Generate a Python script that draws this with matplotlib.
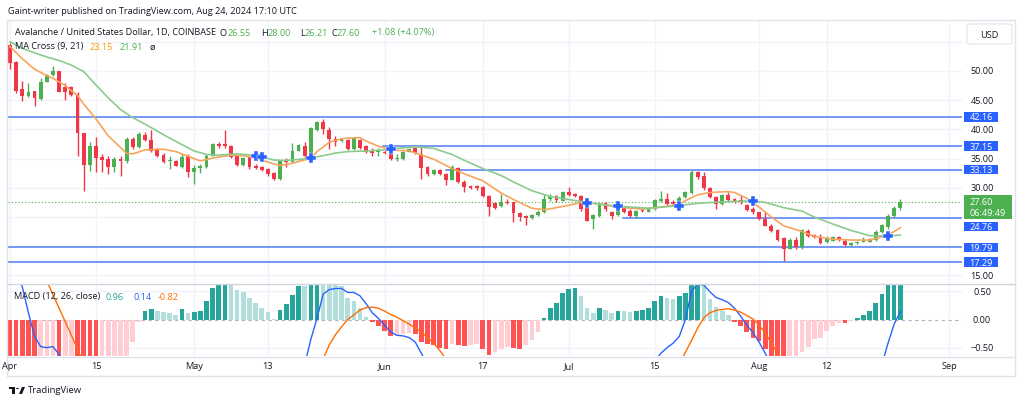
import numpy as np
import matplotlib.pyplot as plt
from matplotlib.patches import Rectangle, Polygon, Circle, FancyBboxPatch

plt.rcParams['font.family'] = ['Open Sans', 'DejaVu Sans']

W, H = 1024, 406

# daily candles, day 0 = Apr 1 2024 ... day 145 = Aug 24 2024
opens = [54.45, 51.5, 46.9, 45.8, 46.5, 45.2, 48.15, 49.3, 49.95, 47.3,
         47.2, 46.05, 39.35, 33.9, 37.2, 35.35, 34.95, 33.5, 34.95, 34.55,
         38.35, 37.05, 39.1, 38.2, 36.45, 35.65, 34.55, 34.6, 33.5, 35.5,
         32.65, 33.35, 33.5, 35.5, 37.45, 37.45, 37.2, 35.4, 33.9, 35.2,
         33.8, 33.5, 33.2, 32.5, 31.5, 34.65, 34.5, 36.35, 37.2, 35.2,
         39.95, 41.2, 39.95, 38.35, 37.95, 38.25, 36.65, 38.25, 37.1, 36.35,
         36.2, 36.2, 35.9, 34.95, 34.95, 36.2, 36.75, 35.8, 33.5, 32.35,
         33.05, 32.35, 31.4, 33.35, 31.05, 30.25, 30.25, 30.1, 28.55, 27.35,
         26.8, 27.6, 27.5, 25.6, 25.1, 24.8, 25.35, 25.8, 28.1, 28.55,
         27.8, 29.35, 28.95, 28.55, 27.2, 24.65, 25.1, 27.35, 25.8, 25.4,
         26.5, 25.95, 25.1, 26.2, 25.9, 26.35, 27.8, 28.1, 27.6, 27.2,
         28.35, 29.1, 32.75, 31.95, 29.9, 28.35, 27.2, 28.75, 28.05, 27.95,
         27.05, 26.35, 25.8, 24.7, 23.5, 22.8, 21.35, 19.6, 21.05, 19.8,
         22.65, 21.9, 21.6, 20.65, 20.95, 21.5, 20.95, 20.2, 20.55, 20.75,
         20.75, 21.05, 22.35, 23.25, 25.1, 26.55]
highs = [54.8, 51.7, 48.35, 48.0, 46.65, 48.75, 49.5, 50.8, 50.05, 47.9,
         47.5, 46.45, 39.4, 37.8, 38.65, 35.8, 35.4, 35.2, 35.4, 38.65,
         38.65, 39.5, 39.6, 39.95, 36.75, 35.9, 35.4, 34.8, 35.8, 35.8,
         33.9, 34.0, 35.8, 37.7, 37.9, 39.95, 37.35, 35.5, 35.25, 35.6,
         34.0, 33.8, 33.35, 32.75, 34.8, 35.05, 37.6, 37.5, 37.8, 40.35,
         41.5, 41.8, 40.35, 38.9, 38.6, 38.35, 38.65, 38.35, 37.35, 36.75,
         36.75, 36.4, 36.2, 35.8, 36.35, 36.75, 37.0, 36.95, 33.65, 33.2,
         33.2, 32.55, 33.9, 33.5, 31.4, 30.5, 30.5, 30.35, 28.75, 27.6,
         28.95, 28.1, 27.6, 25.9, 25.35, 25.55, 26.25, 28.95, 28.95, 28.75,
         29.5, 30.1, 29.1, 28.75, 27.8, 25.5, 27.5, 27.5, 26.1, 26.9,
         26.8, 26.35, 26.25, 26.35, 26.65, 28.1, 29.4, 29.05, 27.95, 28.55,
         29.4, 33.05, 32.95, 32.65, 30.1, 28.55, 28.95, 29.2, 28.2, 28.75,
         27.2, 26.65, 25.9, 25.8, 23.8, 22.95, 21.5, 21.45, 21.5, 22.95,
         22.95, 22.1, 22.1, 21.7, 21.8, 21.8, 21.25, 20.65, 20.9, 21.5,
         21.35, 22.8, 23.8, 25.5, 26.95, 28.0]
lows = [50.3, 46.3, 44.9, 45.5, 44.05, 45.1, 48.05, 49.1, 46.35, 45.1,
        45.75, 35.5, 29.5, 32.9, 32.65, 32.65, 32.35, 32.65, 32.1, 34.25,
        36.65, 36.9, 38.05, 36.05, 35.2, 34.25, 33.2, 33.7, 33.45, 31.9,
        30.65, 32.5, 33.4, 35.4, 36.75, 36.85, 35.1, 33.7, 33.8, 33.2,
        33.2, 32.8, 31.95, 31.4, 31.4, 33.5, 34.35, 36.25, 34.9, 35.1,
        39.7, 39.2, 36.65, 37.2, 37.8, 36.5, 36.5, 36.65, 35.95, 35.5,
        35.4, 35.75, 34.8, 34.6, 34.8, 36.05, 35.8, 31.5, 32.05, 32.25,
        32.2, 30.5, 31.3, 30.8, 29.35, 29.8, 29.7, 28.35, 25.1, 26.35,
        26.65, 27.2, 24.1, 24.35, 23.6, 24.65, 25.1, 25.7, 27.8, 27.6,
        27.7, 28.55, 28.35, 26.1, 24.25, 22.95, 25.0, 26.1, 24.65, 25.1,
        25.7, 24.95, 24.85, 25.8, 25.8, 26.25, 27.5, 27.1, 26.95, 27.1,
        28.25, 29.0, 31.5, 29.7, 28.25, 26.35, 27.1, 27.8, 27.35, 27.2,
        26.1, 25.5, 24.5, 23.4, 22.5, 20.95, 17.4, 19.5, 19.6, 19.6,
        21.5, 21.4, 20.4, 20.55, 20.85, 20.95, 20.0, 20.0, 20.45, 20.65,
        20.65, 20.95, 22.25, 22.95, 25.0, 26.21]
closes = [51.4, 46.6, 45.8, 46.45, 45.3, 48.15, 49.3, 50.0, 46.45, 46.35,
          45.9, 39.35, 33.9, 37.2, 35.05, 34.8, 33.5, 34.95, 34.65, 38.35,
          36.95, 39.2, 38.2, 36.35, 35.5, 34.35, 34.75, 33.8, 35.35, 32.65,
          33.35, 33.8, 35.5, 37.45, 37.1, 37.1, 35.2, 33.9, 35.1, 33.5,
          33.35, 33.1, 32.35, 31.5, 34.65, 34.35, 36.35, 37.35, 35.5, 40.2,
          41.2, 40.05, 38.35, 37.9, 38.35, 36.65, 38.45, 36.75, 36.05, 35.95,
          36.55, 35.9, 34.95, 35.15, 36.2, 36.65, 35.9, 33.35, 32.35, 33.05,
          32.35, 31.4, 33.5, 30.95, 30.1, 30.0, 29.9, 28.55, 26.65, 26.55,
          27.6, 27.4, 25.7, 24.95, 24.8, 25.35, 25.9, 28.1, 28.35, 27.95,
          29.35, 28.75, 28.65, 26.35, 24.35, 25.35, 27.35, 26.35, 25.1, 26.6,
          25.8, 25.25, 26.1, 25.95, 26.5, 27.9, 28.1, 27.2, 27.2, 28.25,
          29.2, 32.65, 31.9, 29.9, 28.35, 27.2, 28.75, 27.95, 27.5, 27.5,
          26.25, 25.8, 24.6, 23.5, 22.65, 21.1, 19.5, 21.05, 19.8, 22.75,
          21.8, 21.6, 20.55, 21.25, 21.5, 21.05, 20.2, 20.5, 20.75, 21.1,
          21.25, 22.5, 23.65, 25.25, 26.52, 27.6]

# MA Cross lines (day, value)
ma9_days = [0, 2, 4, 6, 7, 9, 10, 11, 12, 14, 16, 18, 19, 20, 22, 25, 27, 29, 31, 33,
            36, 38, 40, 42, 44, 46, 47, 49, 50, 52, 54, 55, 57, 58, 60, 62, 63, 65, 67,
            69, 72, 74, 77, 80, 82, 85, 87, 88, 91, 93, 95, 97, 99, 103, 106, 109, 110,
            112, 114, 117, 118, 120, 122, 124, 126, 129, 131, 134, 137, 140, 141, 143, 145]
ma9_vals = [54.2, 52.1, 50.3, 49.2, 48.75, 47.5, 46.6, 45.8, 44.35, 41.8, 38.9, 36.9, 35.9,
            35.8, 36.5, 36.6, 36.2, 35.4, 34.6, 35.1, 35.6, 35.5, 35.1, 34.4, 33.8, 34.2,
            34.5, 35.05, 36.2, 37.8, 38.4, 38.5, 38.6, 38.0, 37.1, 36.6, 36.4, 36.35, 35.6,
            34.9, 33.3, 32.4, 31.2, 29.1, 28.0, 26.5, 26.25, 26.4, 27.0, 27.5, 27.35, 27.05,
            26.7, 26.35, 26.7, 27.1, 27.8, 28.8, 29.2, 29.35, 29.2, 28.2, 26.7, 25.0, 23.5,
            22.5, 21.7, 21.2, 21.05, 21.05, 21.3, 21.9, 23.15]
ma21_days = [0, 2, 4, 6, 8, 10, 12, 14, 16, 18, 20, 22, 24, 26, 28, 30, 32, 34, 37, 39,
             41, 43, 45, 47, 49, 51, 53, 55, 58, 61, 63, 66, 69, 72, 74, 77, 80, 82, 85,
             88, 91, 93, 96, 99, 104, 109, 112, 117, 121, 123, 126, 129, 131, 134, 137,
             140, 143, 145]
ma21_vals = [55.0, 53.9, 53.1, 52.4, 51.8, 51.0, 49.9, 47.6, 45.4, 43.4, 42.0, 40.9, 39.7,
             38.5, 37.4, 36.3, 35.7, 35.6, 35.8, 35.65, 35.3, 34.75, 34.7, 34.85, 35.1, 35.5,
             35.95, 36.2, 36.3, 36.5, 36.75, 37.0, 36.75, 35.7, 34.7, 33.3, 32.1, 31.0, 29.5,
             28.5, 28.0, 27.65, 27.2, 26.85, 26.5, 26.95, 27.35, 27.65, 27.75, 27.5, 26.6,
             26.0, 25.0, 23.8, 22.7, 21.8, 21.75, 21.91]
cross_days = [40, 41, 49, 62, 94, 99, 109, 121, 143]
cross_vals = [35.4, 35.3, 35.1, 36.6, 27.4, 26.8, 26.9, 27.7, 21.8]

# horizontal levels: (price, first day drawn)
levels = [42.16, 37.15, 33.13, 24.76, 19.79, 17.29]
level_start = [-1, 60.7, 71, 99.8, -1, -1]

# MACD histogram per day
hist = [-0.9, -1.0, -1.1, -1.2, -1.3, -1.25, -1.2, -1.1, -1.15, -1.1,
        -1.05, -1.3, -1.6, -1.7, -1.75, -1.6, -1.4, -1.2, -1.0, -0.8,
        -0.4, -0.05, 0.156, 0.185, 0.156, 0.127, 0.11, 0.08, 0.185, 0.11,
        0.127, 0.156, 0.32, 0.557, 0.65, 0.72, 0.66, 0.52, 0.48, 0.39,
        0.30, 0.21, 0.127, 0.01, 0.17, 0.27, 0.43, 0.6, 0.59, 0.65,
        0.75, 0.72, 0.68, 0.64, 0.6, 0.39, 0.33, 0.21, 0.04, -0.05,
        -0.11, -0.2, -0.29, -0.28, -0.25, -0.24, -0.26, -0.4, -0.43, -0.46,
        -0.51, -0.52, -0.43, -0.45, -0.47, -0.46, -0.44, -0.52, -0.63, -0.57,
        -0.52, -0.48, -0.5, -0.52, -0.45, -0.36, -0.23, 0.02, 0.2, 0.3,
        0.47, 0.54, 0.56, 0.42, 0.2, 0.11, 0.21, 0.17, 0.11, 0.155,
        0.15, 0.14, 0.155, 0.17, 0.21, 0.33, 0.42, 0.39, 0.37, 0.42,
        0.47, 0.66, 0.72, 0.65, 0.36, 0.23, 0.155, 0.08, -0.04, -0.12,
        -0.22, -0.32, -0.38, -0.52, -0.7, -0.75, -0.8, -0.72, -0.64, -0.58,
        -0.49, -0.35, -0.32, -0.2, -0.12, -0.06, -0.07, -0.03, 0.03, 0.08,
        0.155, 0.29, 0.45, 0.7, 0.85, 0.96]

# MACD / signal line pieces that fall inside the pane: (first day, values)
macd_pieces = [
    (0, [1.3, 0.95, 0.58, 0.12, -0.3, -0.48, -0.5, -0.48, -0.62, -0.9]),
    (48, [-0.8, -0.35, 0.02, 0.45, 0.53, 0.55, 0.55, 0.48, 0.48, 0.42, 0.28,
          0.12, 0.02, -0.1, -0.22, -0.28, -0.29, -0.32, -0.4, -0.6, -0.8]),
    (105, [-0.75, -0.6, -0.5, -0.42, -0.3, 0.0, 0.5, 0.63, 0.61, 0.49, 0.39,
           0.35, 0.3, 0.2, 0.06, -0.1, -0.23, -0.4, -0.6, -0.8]),
    (142, [-0.8, -0.42, -0.08, 0.14]),
]
signal_pieces = [
    (5, [0.92, 0.68, 0.44, 0.2, -0.04, -0.28, -0.53, -0.77]),
    (50, [-0.95, -0.7, -0.45, -0.27, -0.13, 0.0, 0.08, 0.17, 0.21, 0.22, 0.2,
          0.15, 0.09, 0.04, -0.02, -0.08, -0.15, -0.22, -0.32, -0.42, -0.55, -0.7]),
    (108, [-1.0, -0.8, -0.58, -0.37, -0.15, 0.03, 0.12, 0.16, 0.18, 0.19, 0.17,
           0.13, 0.07, 0.01, -0.1, -0.24, -0.42, -0.6, -0.8]),
]

tick_days = [0, 14, 30, 42, 61, 77, 91, 105, 122, 133, 153]
tick_labels = ['Apr', '15', 'May', '13', 'Jun', '17', 'Jul', '15', 'Aug', '12', 'Sep']
price_ticks = [50, 45, 40, 35, 30, 15]

UP, DOWN = '#4caf50', '#f23645'
TXT = '#131722'
GRID = '#f0f3fa'
BLUE = '#2962ff'

fig = plt.figure(figsize=(W / 100, H / 100), dpi=100)
fig.patch.set_facecolor('white')


def fx(x):
    return x / W


def fy(y):
    return 1 - y / H


def py(p):
    # pixel row of a price on the right scale
    return 72 + (50 - p) * 5.84


ax = fig.add_axes([fx(8), fy(284), (962 - 8) / W, (284 - 21) / H])
ax2 = fig.add_axes([fx(8), fy(357), (962 - 8) / W, (357 - 285) / H])
x0, x1 = (8 - 10) / 6.14, (962 - 10) / 6.14
ax.set_xlim(x0, x1)
ax2.set_xlim(x0, x1)
ax.set_ylim(50 - (284 - 72) / 5.84, 50 + (72 - 21) / 5.84)
ax2.set_ylim((320.5 - 357) / 56.4, (320.5 - 285) / 56.4)
for a in (ax, ax2):
    a.set_xticks([])
    a.set_yticks([])
    for s in a.spines.values():
        s.set_visible(False)

# grid
for d in tick_days:
    ax.axvline(d, color=GRID, lw=1, zorder=0)
    ax2.axvline(d, color=GRID, lw=1, zorder=0)
for p in range(15, 60, 5):
    ax.axhline(p, color=GRID, lw=1, zorder=0)
for v in (-0.5, 0.5):
    ax2.axhline(v, color=GRID, lw=1, zorder=0)
ax2.axhline(0, color='#b2b5be', lw=0.8, ls=(0, (3, 3)), zorder=1)

# candles
days = np.arange(len(closes))
o, h, l, c = map(np.array, (opens, highs, lows, closes))
cols = np.where(c >= o, UP, DOWN)
ax.vlines(days, l, h, colors=cols, lw=1, zorder=3)
body = np.maximum(np.abs(c - o), 0.08)
ax.bar(days, body, bottom=np.minimum(o, c), width=0.62, color=cols, zorder=4)

# levels
for p, s in zip(levels, level_start):
    ax.plot([max(s, x0), x1], [p, p], color='#4f7ff2', lw=1.1, zorder=2)
ax.axhline(closes[-1], color=UP, lw=0.8, ls=(0, (1, 2)), zorder=2)

# MA lines
ax.plot(ma9_days, ma9_vals, color='#f9a45c', lw=1.2, zorder=5)
ax.plot(ma21_days, ma21_vals, color='#8ccb8e', lw=1.2, zorder=5)
ax.plot(cross_days, cross_vals, ls='none', marker='P', ms=7.5, color=BLUE,
        mec='white', mew=0.3, zorder=6)

# MACD
hv = np.array(hist)
prev = np.concatenate([[hv[0]], hv[:-1]])
hcol = np.where(hv >= 0, np.where(hv >= prev, '#26a69a', '#b2dfdb'),
                np.where(hv <= prev, '#ff5252', '#ffcdd2'))
ax2.bar(days, hv, width=0.75, color=hcol, zorder=2)
for start, vals in macd_pieces:
    ax2.plot(np.arange(start, start + len(vals)), vals, color='#2962ff', lw=1, zorder=3)
for start, vals in signal_pieces:
    ax2.plot(np.arange(start, start + len(vals)), vals, color='#ff6d00', lw=1, zorder=3)

# frame
fig.add_artist(Rectangle((fx(7), fy(377)), (1015 - 7) / W, (377 - 21) / H,
                         transform=fig.transFigure, fill=False, ec='#e0e3eb', lw=1))
fig.add_artist(plt.Line2D([fx(7), fx(1015)], [fy(284.5), fy(284.5)],
                          transform=fig.transFigure, color='#d1d4dc', lw=1))
fig.add_artist(plt.Line2D([fx(7), fx(1015)], [fy(358), fy(358)],
                          transform=fig.transFigure, color='#e0e3eb', lw=1))


def pieces(x, y, items, size=6.6):
    r = fig.canvas.get_renderer()
    for s, col in items:
        t = fig.text(fx(x), fy(y), s, color=col, fontsize=size, ha='left', va='center')
        x += t.get_window_extent(renderer=r).width
    return x


def box(xl, yt, w, hgt, fc, ec='none', rounded=False):
    style = 'round,pad=0,rounding_size=0.004' if rounded else 'square,pad=0'
    fig.add_artist(FancyBboxPatch((fx(xl), fy(yt + hgt)), w / W, hgt / H,
                                  boxstyle=style, transform=fig.transFigure,
                                  fc=fc, ec=ec, lw=0.8, zorder=5))


fs = 6.6
pieces(8, 12, [('Gaint-writer published on TradingView.com, Aug 24, 2024 17:10 UTC', TXT)], 6.6)
pieces(15, 33, [('Avalanche / United States Dollar, 1D, COINBASE', TXT)], fs)
G = '#4caf50'
pieces(220, 33, [('O', TXT), ('26.55', G)], fs)
pieces(261, 33, [('H', TXT), ('28.00', G)], fs)
pieces(300, 33, [('L', TXT), ('26.21', G)], fs)
pieces(331, 33, [('C', TXT), ('27.60', G)], fs)
pieces(372, 33, [('+1.08 (+4.07%)', G)], fs)
pieces(15, 47, [('MA Cross (9, 21)', TXT)], fs)
pieces(90, 47, [('23.15', '#ff9800')], fs)
pieces(119, 47, [('21.91', G)], fs)
pieces(150, 47, [('ø', TXT)], fs)
pieces(14, 297, [('MACD (12, 26, close)', TXT)], fs)
pieces(106, 297, [('0.96', '#26a69a')], fs)
pieces(133, 297, [('0.14', '#2962ff')], fs)
pieces(158, 297, [('-0.82', '#ff6d00')], fs)

# price scale
for p in price_ticks:
    fig.text(fx(982), fy(py(p)), '%.2f' % p, fontsize=fs, color=TXT,
             ha='center', va='center')
# level tags; the 24.76 tag is pushed below the last-price tag
tag_rows = [py(p) for p in levels]
tag_rows[3] = 227.5
for p, yc in zip(levels, tag_rows):
    box(964, yc - 4.8, 34, 9.6, BLUE)
    t = fig.text(fx(981), fy(yc), '%.2f' % p, fontsize=fs, color='white',
                 ha='center', va='center')
    t.set_zorder(6)
box(964, 196, 48, 24, UP)
for yy, s in ((202.3, '%.2f' % closes[-1]), (213.5, '06:49:49')):
    t = fig.text(fx(970), fy(yy), s, fontsize=fs, color='white', ha='left', va='center')
    t.set_zorder(6)
box(967, 25, 45, 20, 'white', ec='#e0e3eb', rounded=True)
t = fig.text(fx(989.5), fy(35), 'USD', fontsize=fs, color=TXT, ha='center', va='center')
t.set_zorder(6)
for v, s in ((0.5, '0.50'), (0.0, '0.00'), (-0.5, '−0.50')):
    fig.text(fx(982), fy(320.5 - v * 56.4), s, fontsize=fs, color=TXT,
             ha='center', va='center')

# time scale
for d, s in zip(tick_days, tick_labels):
    fig.text(fx(10 + 6.14 * d), fy(367), s, fontsize=fs, color=TXT, ha='center', va='center')

# footer logo
fig.add_artist(Rectangle((fx(9), fy(390)), 6 / W, 2.5 / H, transform=fig.transFigure,
                         color=TXT, lw=0))
fig.add_artist(Rectangle((fx(12), fy(395)), 3 / W, 7 / H, transform=fig.transFigure,
                         color=TXT, lw=0))
fig.add_artist(Polygon([[fx(19), fy(395)], [fx(22), fy(395)], [fx(25), fy(388)],
                        [fx(22), fy(388)]], closed=True, transform=fig.transFigure,
                       color=TXT, lw=0))
fig.add_artist(Circle((fx(17.5), fy(389.5)), 1.4 / W, transform=fig.transFigure,
                      color=TXT, lw=0))
fig.text(fx(28), fy(391), 'TradingView', fontsize=6.8, color=TXT, ha='left', va='center')

fig.savefig('out.png', dpi=100, facecolor='white')
